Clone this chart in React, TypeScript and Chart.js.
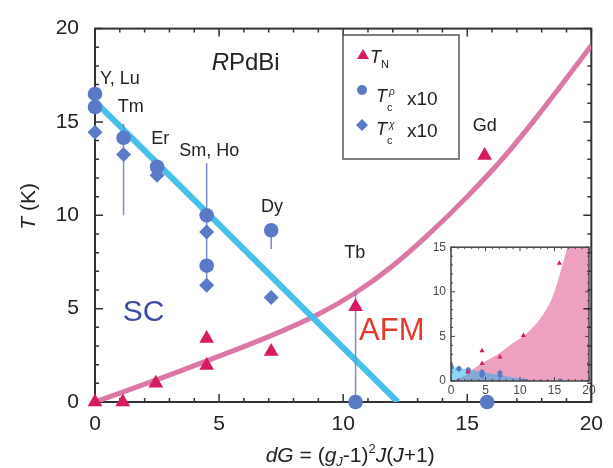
import React, { useEffect, useRef } from 'react';
import { Chart, registerables } from 'chart.js';
Chart.register(...registerables);

// ---------- data ----------
const tnX = [0, 1.12, 2.45, 4.5, 4.5, 7.1, 10.5, 15.7];
const tnY = [0, 0, 1.0, 3.4, 1.95, 2.7, 5.1, 13.2];
const tcRhoX = [0, 0, 1.15, 2.5, 4.5, 4.5, 7.1, 10.5, 15.8];
const tcRhoY = [16.5, 15.8, 14.15, 12.6, 10.0, 7.3, 9.2, 0, 0];
const tcChiX = [0, 1.15, 2.5, 4.5, 4.5, 7.1];
const tcChiY = [14.45, 13.25, 12.15, 9.1, 6.25, 5.6];
const errX = [1.15, 4.5, 7.1, 10.5];
const errLow = [10.0, 6.25, 8.2, 0];
const errHigh = [14.9, 12.8, 9.2, 6.0];
const scLineX = [0, 12.2];
const scLineY = [16.1, 0];
const afmX = [0, 2.5, 4.5, 7, 9, 10.5, 12, 13.5, 15, 16.5, 18, 20];
const afmY = [0, 1.2, 2.2, 3.5, 4.7, 5.85, 7.3, 9.05, 11.0, 13.15, 15.6, 19.1];
const insetAfmX = [0, 2, 3.2, 4.7, 7, 9, 11, 13.4, 14.85, 16, 16.8, 17.3, 20];
const insetAfmY = [0, 0.6, 1.35, 2.07, 3.1, 4.25, 5.35, 7.5, 9.7, 12.6, 14.8, 16.5, 16.5];
const labelText = ['Y, Lu', 'Tm', 'Er', 'Sm, Ho', 'Dy', 'Tb', 'Gd'];
const labelX = [0.2, 0.92, 2.27, 3.39, 6.69, 10.04, 15.22];
const labelY = [17.3, 15.8, 14.1, 13.45, 10.45, 8.0, 14.8];

const F = '"Liberation Sans", Arial, Helvetica, sans-serif';
const TRI = '#d81b60';
const BLUE = '#5a7ac8';

const pts = (xs: number[], ys: number[], k = 1) => xs.map((x, i) => ({ x, y: ys[i] / k }));

type Seg = { t: string; f: string; dy?: number };
function drawRich(ctx: CanvasRenderingContext2D, segs: Seg[], x: number, y: number, align: 'left' | 'center') {
  let w = 0;
  for (const s of segs) { ctx.font = s.f; w += ctx.measureText(s.t).width; }
  let cx = align === 'center' ? x - w / 2 : x;
  ctx.textAlign = 'left';
  for (const s of segs) {
    ctx.font = s.f;
    ctx.fillText(s.t, cx, y + (s.dy || 0));
    cx += ctx.measureText(s.t).width;
  }
}

function frameTicks(chart: any, step: number, major: number, lenMaj: number, lenMin: number, color: string, lw: number, tlw: number) {
  const { ctx, chartArea: a, scales } = chart;
  const xs = scales.x, ys = scales.y;
  ctx.save();
  ctx.strokeStyle = color;
  ctx.lineWidth = tlw;
  ctx.beginPath();
  for (let v = xs.min; v <= xs.max + 1e-9; v += step) {
    const p = xs.getPixelForValue(v);
    const l = Math.abs(v % major) < 1e-9 ? lenMaj : lenMin;
    ctx.moveTo(p, a.bottom); ctx.lineTo(p, a.bottom - l);
    ctx.moveTo(p, a.top); ctx.lineTo(p, a.top + l);
  }
  for (let v = ys.min; v <= ys.max + 1e-9; v += step) {
    const p = ys.getPixelForValue(v);
    const l = Math.abs(v % major) < 1e-9 ? lenMaj : lenMin;
    ctx.moveTo(a.left, p); ctx.lineTo(a.left + l, p);
    ctx.moveTo(a.right, p); ctx.lineTo(a.right - l, p);
  }
  ctx.stroke();
  ctx.lineWidth = lw;
  ctx.strokeRect(a.left, a.top, a.right - a.left, a.bottom - a.top);
  ctx.restore();
}

const mainDecor = {
  id: 'mainDecor',
  beforeDatasetsDraw(chart: any) {
    frameTicks(chart, 1, 5, 8, 4, '#333', 2, 1.5);
  },
  afterDraw(chart: any) {
    const { ctx, chartArea: a, scales } = chart;
    const xs = scales.x, ys = scales.y;
    ctx.save();
    ctx.fillStyle = '#222';
    ctx.textBaseline = 'middle';
    labelText.forEach((t, i) => {
      drawRich(ctx, [{ t, f: `18px ${F}` }], xs.getPixelForValue(labelX[i]), ys.getPixelForValue(labelY[i]), 'left');
    });
    drawRich(ctx, [{ t: 'R', f: `italic 24px ${F}` }, { t: 'PdBi', f: `24px ${F}` }], xs.getPixelForValue(4.7), ys.getPixelForValue(18.15), 'left');
    ctx.fillStyle = '#3c4ca6';
    drawRich(ctx, [{ t: 'SC', f: `30px ${F}` }], xs.getPixelForValue(1.12), ys.getPixelForValue(4.8), 'left');
    ctx.fillStyle = '#e23a2c';
    drawRich(ctx, [{ t: 'AFM', f: `31px ${F}` }], xs.getPixelForValue(10.64), ys.getPixelForValue(3.8), 'left');

    // axis titles
    ctx.textBaseline = 'alphabetic';
    ctx.fillStyle = '#222';
    const cx = (a.left + a.right) / 2 + 7;
    drawRich(ctx, [
      { t: 'dG', f: `italic 21px ${F}` },
      { t: ' = (', f: `21px ${F}` },
      { t: 'g', f: `italic 21px ${F}` },
      { t: 'J', f: `italic 13px ${F}`, dy: 4 },
      { t: '-1)', f: `21px ${F}` },
      { t: '2', f: `13px ${F}`, dy: -9 },
      { t: 'J', f: `italic 21px ${F}` },
      { t: '(', f: `21px ${F}` },
      { t: 'J', f: `italic 21px ${F}` },
      { t: '+1)', f: `21px ${F}` },
    ], cx, 462, 'center');
    ctx.save();
    ctx.translate(35, (a.top + a.bottom) / 2 - 9);
    ctx.rotate(-Math.PI / 2);
    drawRich(ctx, [{ t: 'T', f: `italic 21px ${F}` }, { t: ' (K)', f: `21px ${F}` }], 0, 0, 'center');
    ctx.restore();

    // legend
    const L = 343, T = 35;
    ctx.fillStyle = '#fff';
    ctx.fillRect(L, T, 116, 124);
    ctx.strokeStyle = '#555';
    ctx.lineWidth = 1.5;
    ctx.strokeRect(L, T, 116, 124);
    ctx.fillStyle = TRI;
    ctx.beginPath();
    ctx.moveTo(L + 20, T + 14); ctx.lineTo(L + 26, T + 24); ctx.lineTo(L + 14, T + 24); ctx.closePath(); ctx.fill();
    ctx.fillStyle = BLUE;
    ctx.beginPath(); ctx.arc(L + 19, T + 55, 5, 0, Math.PI * 2); ctx.fill();
    ctx.beginPath();
    ctx.moveTo(L + 19, T + 84); ctx.lineTo(L + 25, T + 90); ctx.lineTo(L + 19, T + 96); ctx.lineTo(L + 13, T + 90); ctx.closePath(); ctx.fill();
    ctx.fillStyle = '#222';
    drawRich(ctx, [{ t: 'T', f: `italic 18px ${F}` }, { t: 'N', f: `11px ${F}`, dy: 5 }], L + 27, T + 28, 'left');
    drawRich(ctx, [{ t: 'T', f: `italic 18px ${F}` }], L + 33, T + 67, 'left');
    drawRich(ctx, [{ t: 'c', f: `11px ${F}` }], L + 44, T + 76, 'left');
    drawRich(ctx, [{ t: 'ρ', f: `italic 10px ${F}` }], L + 46, T + 60, 'left');
    drawRich(ctx, [{ t: 'x10', f: `19px ${F}` }], L + 64, T + 70, 'left');
    drawRich(ctx, [{ t: 'T', f: `italic 18px ${F}` }], L + 33, T + 100, 'left');
    drawRich(ctx, [{ t: 'c', f: `11px ${F}` }], L + 44, T + 109, 'left');
    drawRich(ctx, [{ t: 'χ', f: `italic 10px ${F}` }], L + 46, T + 93, 'left');
    drawRich(ctx, [{ t: 'x10', f: `19px ${F}` }], L + 64, T + 102, 'left');
    ctx.restore();
  },
};

const insetDecor = {
  id: 'insetDecor',
  afterDatasetsDraw(chart: any) {
    frameTicks(chart, 1, 5, 4, 2, '#444', 1.5, 1);
  },
};

export default function App() {
  const mainRef = useRef<HTMLCanvasElement>(null);
  const insetRef = useRef<HTMLCanvasElement>(null);
  useEffect(() => {
    const errSets = errX.map((x, i) => ({
      data: [{ x, y: errLow[i] }, { x, y: errHigh[i] }],
      showLine: true, pointRadius: 0, borderColor: '#7a8ccb', borderWidth: 1.5,
    }));
    const main = new Chart(mainRef.current!, {
      type: 'scatter',
      data: {
        datasets: [
          { data: pts(tnX, tnY), pointStyle: 'triangle', pointRadius: 8.5, backgroundColor: TRI, borderColor: TRI, borderWidth: 0, clip: false } as any,
          { data: pts(tcRhoX, tcRhoY), pointStyle: 'circle', pointRadius: 7.3, backgroundColor: BLUE, borderColor: BLUE, borderWidth: 0, clip: false },
          { data: pts(tcChiX, tcChiY), pointStyle: 'rectRot', pointRadius: 7.5, backgroundColor: BLUE, borderColor: BLUE, borderWidth: 0, clip: false },
          ...errSets,
          { data: pts(scLineX, scLineY), showLine: true, pointRadius: 0, borderColor: '#48c0ea', borderWidth: 6 },
          { data: pts(afmX, afmY), showLine: true, pointRadius: 0, borderColor: '#dc78a6', borderWidth: 5, tension: 0.4 },
        ],
      },
      options: {
        animation: false, responsive: false, maintainAspectRatio: false,
        layout: { padding: { top: 23, right: 16, left: 0, bottom: 0 } },
        plugins: { legend: { display: false }, tooltip: { enabled: false } },
        events: [],
        scales: {
          x: {
            type: 'linear', min: 0, max: 20,
            ticks: { stepSize: 5, font: { family: F, size: 21 }, color: '#222', padding: 10, maxRotation: 0 },
            grid: { display: false, drawTicks: false }, border: { display: false },
            afterFit: (s: any) => { s.height = 66; },
          },
          y: {
            type: 'linear', min: 0, max: 20,
            ticks: { stepSize: 5, font: { family: F, size: 21 }, color: '#222', padding: 16 },
            grid: { display: false, drawTicks: false }, border: { display: false },
            afterFit: (s: any) => { s.width = 95; },
          },
        },
      },
      plugins: [mainDecor],
    });
    const inset = new Chart(insetRef.current!, {
      type: 'scatter',
      data: {
        datasets: [
          { data: pts(tnX, tnY), pointStyle: 'triangle', pointRadius: 3, backgroundColor: TRI, borderWidth: 0 },
          { data: pts(tcRhoX, tcRhoY, 10), pointStyle: 'circle', pointRadius: 2.5, backgroundColor: BLUE, borderWidth: 0 },
          { data: pts(tcChiX, tcChiY, 10), pointStyle: 'rectRot', pointRadius: 2.8, backgroundColor: BLUE, borderWidth: 0 },
          { data: pts(scLineX, scLineY, 10), showLine: true, pointRadius: 0, borderWidth: 0, fill: 'origin', backgroundColor: 'rgba(25,175,235,0.5)' },
          { data: pts(insetAfmX, insetAfmY), showLine: true, pointRadius: 0, borderWidth: 0, fill: 'origin', backgroundColor: 'rgb(238,160,192)', cubicInterpolationMode: 'monotone' },
        ],
      },
      options: {
        animation: false, responsive: false, maintainAspectRatio: false,
        layout: { padding: { top: 8, right: 11, left: 0, bottom: 0 } },
        plugins: { legend: { display: false }, tooltip: { enabled: false } },
        events: [],
        scales: {
          x: {
            type: 'linear', min: 0, max: 20,
            ticks: { stepSize: 5, font: { family: F, size: 12 }, color: '#4a4a4a', padding: 2, maxRotation: 0 },
            grid: { display: false, drawTicks: false }, border: { display: false },
            afterFit: (s: any) => { s.height = 19; },
          },
          y: {
            type: 'linear', min: 0, max: 15,
            ticks: { stepSize: 5, font: { family: F, size: 12 }, color: '#4a4a4a', padding: 5 },
            grid: { display: false, drawTicks: false }, border: { display: false },
            afterFit: (s: any) => { s.width = 26; },
          },
        },
      },
      plugins: [insetDecor],
    });
    return () => { main.destroy(); inset.destroy(); };
  }, []);
  return (
    <div style={{ position: 'absolute', left: 0, top: 0, width: 613, height: 468, background: '#fff' }}>
      <canvas ref={insetRef} width={175} height={165} style={{ position: 'absolute', left: 425, top: 235, width: 175, height: 165 }} />
      <canvas ref={mainRef} width={613} height={468} style={{ position: 'absolute', left: 0, top: 0, width: 613, height: 468 }} />
    </div>
  );
}
